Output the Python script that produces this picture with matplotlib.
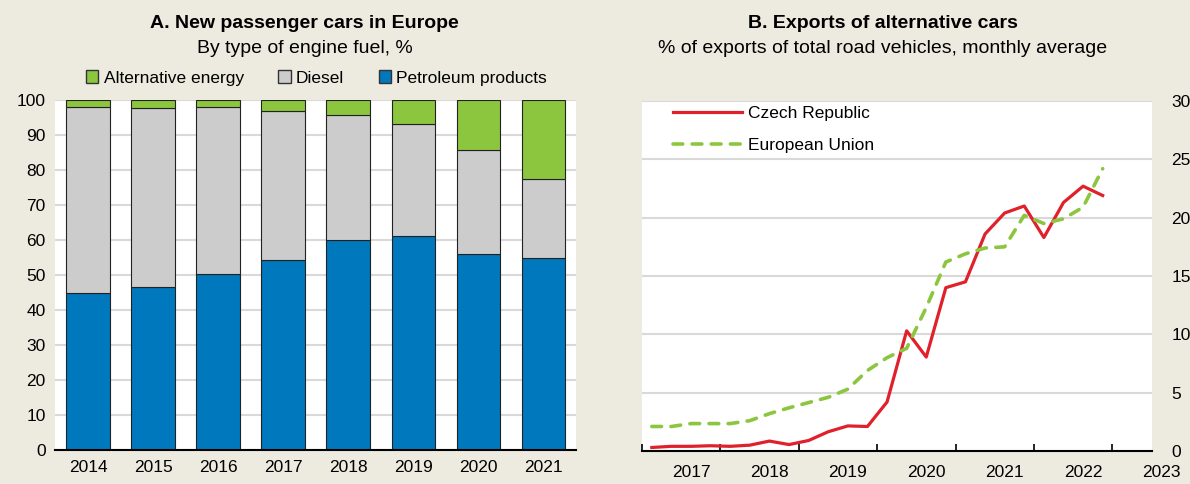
import numpy as np
import matplotlib
matplotlib.use("Agg")
import matplotlib.pyplot as plt
from matplotlib.patches import Patch

plt.rcParams['font.family'] = ['Liberation Sans Narrow', 'Liberation Sans', 'DejaVu Sans']

# Panel A data
years_a = ['2014', '2015', '2016', '2017', '2018', '2019', '2020', '2021']
petroleum = np.array([45.0, 46.5, 50.3, 54.2, 60.0, 61.1, 56.1, 55.0])
diesel = np.array([52.9, 51.1, 47.6, 42.6, 35.8, 32.1, 29.5, 22.4])
alternative = 100 - petroleum - diesel

# Panel B data, quarterly 2016Q3 - 2022Q2
czech = [0.3, 0.4, 0.4, 0.45, 0.4, 0.5, 0.85, 0.55, 0.9, 1.65, 2.15, 2.1,
         4.2, 10.3, 8.05, 14.0, 14.5, 18.6, 20.4, 21.0, 18.3, 21.3, 22.7, 21.9]
eu = [2.1, 2.1, 2.35, 2.35, 2.35, 2.6, 3.2, 3.7, 4.15, 4.6, 5.3, 6.9,
      8.0, 8.8, 12.3, 16.2, 16.9, 17.4, 17.5, 20.2, 19.5, 19.9, 20.9, 24.2]
years_b = ['2017', '2018', '2019', '2020', '2021', '2022', '2023']

bg = '#EDEBE0'
blue = '#0078BE'
grey = '#CCCCCC'
green = '#8CC63F'
red = '#E0202B'
grid = '#D9D9D9'
fs = 12.5

fig = plt.figure(figsize=(11.9, 4.84), dpi=100, facecolor=bg)

# ---- Panel A ----
ax1 = fig.add_axes([0.0466, 0.0702, 0.4374, 0.7232])
x = np.arange(len(years_a))
w = 0.67
ax1.bar(x, petroleum, w, color=blue, edgecolor='#222222', linewidth=0.8, zorder=3)
ax1.bar(x, diesel, w, bottom=petroleum, color=grey, edgecolor='#222222', linewidth=0.8, zorder=3)
ax1.bar(x, alternative, w, bottom=petroleum + diesel, color=green, edgecolor='#222222', linewidth=0.8, zorder=3)
ax1.set_xlim(-0.5, 7.5)
ax1.set_ylim(0, 100)
ax1.set_yticks(range(0, 101, 10))
ax1.set_xticks(x)
ax1.set_xticklabels(years_a)
ax1.grid(axis='y', color=grid, linewidth=1.5, zorder=0)
ax1.tick_params(axis='both', length=0, labelsize=fs)
ax1.tick_params(axis='y', pad=7)
ax1.tick_params(axis='x', pad=7)
for s in ['left', 'right', 'top']:
    ax1.spines[s].set_visible(False)
ax1.spines['bottom'].set_color('black')
ax1.spines['bottom'].set_linewidth(1.5)
ax1.spines['bottom'].set_zorder(5)

fig.text(0.256, 0.952, 'A. New passenger cars in Europe', ha='center', va='center',
         fontsize=14, fontweight='bold')
fig.text(0.256, 0.900, 'By type of engine fuel, %', ha='center', va='center', fontsize=14)

handles = [Patch(facecolor=green, edgecolor='#333333'),
           Patch(facecolor=grey, edgecolor='#333333'),
           Patch(facecolor=blue, edgecolor='#333333')]
fig.legend(handles, ['Alternative energy', 'Diesel', 'Petroleum products'],
           loc='center', bbox_to_anchor=(0.266, 0.839), ncol=3, frameon=False,
           fontsize=fs, handlelength=0.7, handleheight=0.7, handletextpad=0.3,
           columnspacing=2.0)

# ---- Panel B ----
ax2 = fig.add_axes([0.5395, 0.0682, 0.4283, 0.7231])
q = np.arange(len(czech))
ax2.plot(q, czech, color=red, linewidth=2.3, label='Czech Republic', zorder=3)
ax2.plot(q, eu, color=green, linewidth=2.6, linestyle=(0, (2.7, 2.6)),
         dash_capstyle='round', label='European Union', zorder=3)
ax2.set_xlim(-0.5, 25.5)
ax2.set_ylim(0, 30)
ax2.set_yticks(range(0, 31, 5))
ax2.yaxis.tick_right()
ax2.tick_params(axis='y', length=0, labelsize=fs, pad=14)
ax2.set_xticks(np.arange(-0.5, 24, 4))
ax2.set_xticklabels([])
ax2.tick_params(axis='x', direction='in', length=5, width=1.2, color='black')
ax2.grid(axis='y', color=grid, linewidth=1.5, zorder=0)
for s in ['left', 'right', 'top']:
    ax2.spines[s].set_visible(False)
ax2.spines['bottom'].set_color('black')
ax2.spines['bottom'].set_linewidth(1.5)
for k, lab in enumerate(years_b):
    ax2.text(2 + 4 * k, -0.062, lab, transform=ax2.get_xaxis_transform(),
             ha='center', va='center', fontsize=fs, clip_on=False)

ax2.legend(loc='upper left', bbox_to_anchor=(0.03, 1.03), frameon=False,
           fontsize=fs, handlelength=4.0, handletextpad=0.3, labelspacing=0.95)

fig.text(0.742, 0.952, 'B. Exports of alternative cars', ha='center', va='center',
         fontsize=14, fontweight='bold')
fig.text(0.742, 0.900, '% of exports of total road vehicles, monthly average',
         ha='center', va='center', fontsize=14)

fig.savefig('out.png', dpi=100, facecolor=bg)
